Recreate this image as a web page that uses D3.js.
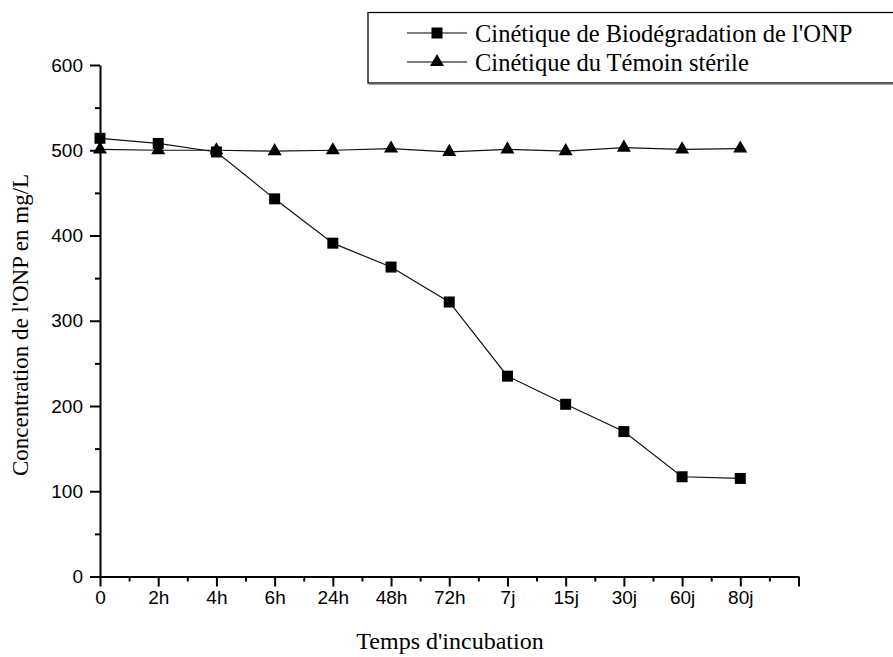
<!DOCTYPE html>
<html>
<head>
<meta charset="utf-8">
<script src="https://cdn.jsdelivr.net/npm/d3@7"></script>
<style>
  html, body { margin: 0; padding: 0; background: #fff; }
  svg { display: block; }
</style>
</head>
<body>
<svg id="chart" width="893" height="657"></svg>
<script>
// Sampling times (categorical, equally spaced)
const timeLabels = ["0", "2h", "4h", "6h", "24h", "48h", "72h", "7j", "15j", "30j", "60j", "80j"];
// ONP concentration (mg/L) under biodegradation
const biodegradation = [514, 508, 498, 443, 391, 363, 322, 235, 202, 170, 117, 115];
// ONP concentration (mg/L) in the sterile control
const temoin = [501, 500, 500, 499, 500, 502, 498, 501, 499, 503, 501, 502];
const yTicks = [0, 100, 200, 300, 400, 500, 600];
const seriesNames = ["Cinétique de Biodégradation de l'ONP", "Cinétique du Témoin stérile"];

const svg = d3.select("#chart");
const serif = "'Liberation Serif', 'Times New Roman', serif";
const sans = "'Liberation Sans', Arial, sans-serif";

const x = d3.scaleLinear().domain([0, 12]).range([100, 798.5]);
const y = d3.scaleLinear().domain([0, 600]).range([576.5, 65]);

const g = svg.append("g");

// X axis: major ticks at each sample, minor ticks in between
const xMajor = d3.range(0, 13);
const xMinor = d3.range(0.5, 12, 1);
const xAxisG = g.append("g").attr("transform", `translate(0,${y(0)})`);
xAxisG.append("g")
  .call(d3.axisBottom(x).tickValues(xMajor).tickSize(10).tickSizeOuter(0)
    .tickFormat(i => timeLabels[i] !== undefined ? timeLabels[i] : ""))
  .call(a => a.select(".domain").attr("stroke-width", 2))
  .call(a => a.selectAll(".tick line").attr("stroke-width", 2))
  .call(a => a.selectAll(".tick text")
    .attr("y", 14).attr("dy", "0.71em")
    .style("font-family", sans)
    .style("font-size", "19px").attr("fill", "#000"));
xAxisG.append("g")
  .call(d3.axisBottom(x).tickValues(xMinor).tickSize(5).tickFormat(""))
  .call(a => a.select(".domain").remove())
  .call(a => a.selectAll(".tick line").attr("stroke-width", 2));

// Y axis: major ticks every 100, minor every 50
const yAxisG = g.append("g").attr("transform", `translate(${x(0)},0)`);
yAxisG.append("g")
  .call(d3.axisLeft(y).tickValues(yTicks).tickSize(10).tickSizeOuter(0))
  .call(a => a.select(".domain").attr("stroke-width", 2))
  .call(a => a.selectAll(".tick line").attr("stroke-width", 2))
  .call(a => a.selectAll(".tick text")
    .attr("x", -17)
    .style("font-family", sans)
    .style("font-size", "19px").attr("fill", "#000"));
yAxisG.append("g")
  .call(d3.axisLeft(y).tickValues(d3.range(50, 600, 100)).tickSize(5).tickFormat(""))
  .call(a => a.select(".domain").remove())
  .call(a => a.selectAll(".tick line").attr("stroke-width", 2));

// Axis titles
svg.append("text")
  .attr("x", 450).attr("y", 649)
  .attr("text-anchor", "middle")
  .style("font-family", serif)
  .style("font-size", "24px")
  .text("Temps d'incubation");

svg.append("text")
  .attr("transform", `translate(28,${325}) rotate(-90)`)
  .attr("text-anchor", "middle")
  .style("font-family", serif)
  .style("font-size", "23px")
  .text("Concentration de l'ONP en mg/L");

// Lines
const line = d3.line().x((d, i) => x(i)).y(d => y(d));
g.append("path").datum(temoin).attr("d", line)
  .attr("fill", "none").attr("stroke", "#111").attr("stroke-width", 1.2);
g.append("path").datum(biodegradation).attr("d", line)
  .attr("fill", "none").attr("stroke", "#111").attr("stroke-width", 1.2);

// Markers
const square = d3.symbol().type(d3.symbolSquare).size(121);
const triangle = d3.symbol().type(d3.symbolTriangle).size(85);

g.selectAll(".tri").data(temoin).join("path")
  .attr("class", "tri")
  .attr("d", triangle)
  .attr("transform", (d, i) => `translate(${x(i)},${y(d)})`)
  .attr("fill", "#000");

g.selectAll(".sq").data(biodegradation).join("path")
  .attr("class", "sq")
  .attr("d", square)
  .attr("transform", (d, i) => `translate(${x(i)},${y(d)})`)
  .attr("fill", "#000");

// Legend
const lg = svg.append("g");
lg.append("rect").attr("x", 368).attr("y", 12.5).attr("width", 540).attr("height", 70.5)
  .attr("fill", "#fff").attr("stroke", "#000").attr("stroke-width", 1.3);
lg.append("line").attr("x1", 369).attr("x2", 893).attr("y1", 84.3).attr("y2", 84.3)
  .attr("stroke", "#888").attr("stroke-width", 1);
const legendRows = [
  { name: seriesNames[0], sym: square, y: 33 },
  { name: seriesNames[1], sym: triangle, y: 62 }
];
legendRows.forEach(r => {
  lg.append("line").attr("x1", 407).attr("x2", 467).attr("y1", r.y).attr("y2", r.y)
    .attr("stroke", "#000").attr("stroke-width", 1.2);
  lg.append("path").attr("d", r.sym).attr("transform", `translate(437,${r.y})`).attr("fill", "#000");
  lg.append("text").attr("x", 475).attr("y", r.y).attr("dy", "0.35em")
    .style("font-family", serif)
    .style("font-size", "24.5px")
    .text(r.name);
});
</script>
</body>
</html>
